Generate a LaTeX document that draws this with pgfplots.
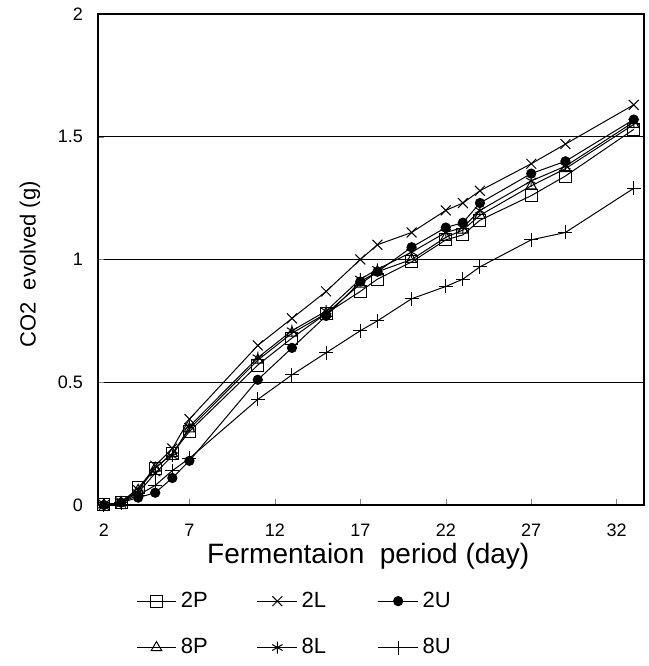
\documentclass[border=0pt]{standalone}
\usepackage{pgfplots}
\pgfplotsset{compat=1.18}
\usepackage{fontspec}
\setmainfont{Liberation Sans}
\pgfplotstableread{
day P2 L2 U2 P8 L8 U8
2  0.00 0.00 0.00 0.00 0.00 0.00
3  0.01 0.01 0.01 0.01 0.01 0.01
4  0.07 0.06 0.03 0.06 0.05 0.04
5  0.15 0.16 0.05 0.15 0.13 0.08
6  0.21 0.23 0.11 0.21 0.20 0.14
7  0.30 0.35 0.18 0.31 0.32 0.19
11 0.57 0.65 0.51 0.59 0.60 0.43
13 0.68 0.76 0.64 0.70 0.71 0.53
15 0.78 0.87 0.77 0.78 0.79 0.62
17 0.87 1.00 0.91 0.90 0.92 0.71
18 0.92 1.06 0.95 0.95 0.96 0.75
20 0.99 1.11 1.05 1.00 1.03 0.84
22 1.08 1.20 1.13 1.09 1.11 0.89
23 1.10 1.23 1.15 1.12 1.13 0.92
24 1.16 1.28 1.23 1.18 1.20 0.97
27 1.26 1.39 1.35 1.30 1.32 1.08
29 1.34 1.47 1.40 1.37 1.38 1.11
33 1.53 1.63 1.57 1.55 1.56 1.29
}\data
\begin{document}
\begin{tikzpicture}
\begin{axis}[
  scale only axis, width=273pt, height=245.5pt,
  xmin=1.65, xmax=33.6, ymin=0, ymax=2,
  xtick={2,7,12,17,22,27,32},
  ytick={0,0.5,1,1.5,2},
  yticklabels={0,0.5,1,1.5,2},
  tick pos=left, tick align=inside, major tick length=3pt,
  axis line style={line width=0.6pt},
  ymajorgrids, grid style={black, line width=0.5pt},
  /pgf/number format/assume math mode=true,
  tick label style={font=\fontsize{9}{10}\selectfont},
  yticklabel style={xshift=-4pt},
  xticklabel style={yshift=-6pt},
  xlabel={Fermentaion\ \ period (day)},
  xlabel style={at={(axis description cs:0.495,-0.104)}, anchor=center, inner sep=0pt, font=\fontsize{14}{15}\selectfont},
  ylabel={CO2\ \ evolved (g)},
  ylabel style={at={(axis description cs:-0.1245,0.49)}, anchor=center, inner sep=0pt, font=\fontsize{11}{13}\selectfont},
  legend columns=3,
  legend style={draw=none, fill=none, at={(axis description cs:0.058,-0.16)}, anchor=north west,
    font=\fontsize{11}{13}\selectfont, row sep=10pt,
    /tikz/every even column/.append style={column sep=6pt}},
  legend image code/.code={\draw[mark repeat=2,mark phase=2] plot coordinates {(0cm,0cm)(0.35cm,0cm)(0.7cm,0cm)};},
  every axis plot/.append style={black, line width=0.5pt},
]
\coordinate (bl) at (rel axis cs:0,0);
\coordinate (tr) at (rel axis cs:1,1);
\addplot[mark=square, mark size=3pt, mark options={fill=white, solid}] table[x=day, y=P2] {\data};
\addlegendentry{\makebox[30pt][l]{2P}}
\addplot[mark=x, mark size=3.5pt] table[x=day, y=L2] {\data};
\addlegendentry{\makebox[30pt][l]{2L}}
\addplot[mark=*, mark size=2.3pt] table[x=day, y=U2] {\data};
\addlegendentry{\makebox[30pt][l]{2U}}
\addplot[mark=triangle, mark size=3pt, mark options={fill=white}] table[x=day, y=P8] {\data};
\addlegendentry{\makebox[30pt][l]{8P}}
\addplot[mark=asterisk, mark size=3pt] table[x=day, y=L8] {\data};
\addlegendentry{\makebox[30pt][l]{8L}}
\addplot[mark=+, mark size=3.5pt] table[x=day, y=U8] {\data};
\addlegendentry{\makebox[30pt][l]{8U}}
\end{axis}
\pgfresetboundingbox
\path ([shift={(-49pt,-80.5pt)}]bl) rectangle ([shift={(2pt,7pt)}]tr);
\end{tikzpicture}
\end{document}
